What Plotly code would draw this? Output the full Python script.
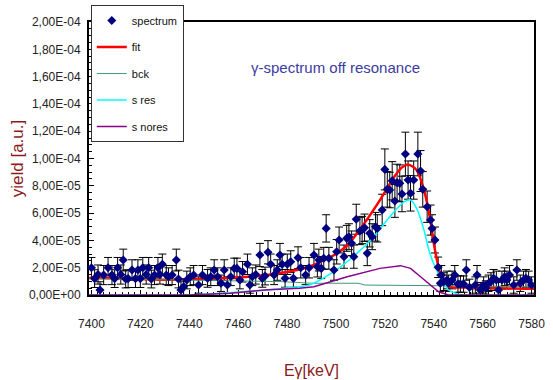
import plotly.graph_objects as go

# Measured gamma spectrum (yield in units of 1e-5)
energy = [7400.0, 7401.3, 7402.7, 7403.5, 7405.0, 7406.8, 7408.4, 7409.5, 7410.7, 7412.0,
          7413.0, 7414.0, 7415.0, 7416.6, 7418.0, 7419.0, 7420.0, 7421.0, 7422.4, 7423.4,
          7424.5, 7425.8, 7427.2, 7428.0, 7429.0, 7430.6, 7431.5, 7433.0, 7434.7, 7435.6,
          7436.6, 7437.7, 7439.0, 7440.4, 7441.8, 7443.8, 7445.4, 7447.5, 7448.8, 7450.2,
          7451.6, 7453.0, 7454.3, 7455.6, 7457.0, 7458.4, 7459.5, 7460.7, 7461.8, 7463.8,
          7464.8, 7465.8, 7467.2, 7468.9, 7469.9, 7471.0, 7472.2, 7473.3, 7474.7, 7476.0,
          7477.1, 7478.0, 7479.2, 7480.1, 7481.5, 7482.6, 7484.5, 7485.6, 7487.6, 7489.0,
          7491.0, 7492.4, 7493.0, 7494.0, 7495.0, 7496.0, 7497.1, 7499.2, 7500.3, 7501.3,
          7503.3, 7504.4, 7505.3, 7506.4, 7507.3, 7508.3, 7509.8, 7510.7, 7511.7, 7512.8,
          7513.8, 7514.8, 7516.2, 7516.9, 7518.9, 7520.0, 7521.0, 7522.0, 7523.0, 7524.1,
          7525.0, 7526.1, 7527.0, 7528.4, 7529.5, 7530.5, 7531.8, 7533.5, 7534.6, 7535.5,
          7537.3, 7538.7, 7539.3, 7540.5, 7541.8, 7542.7, 7543.1, 7544.1, 7545.4, 7546.1,
          7547.5, 7548.6, 7549.9, 7550.9, 7552.2, 7553.3, 7554.6, 7555.9, 7557.0, 7557.7,
          7559.0, 7560.4, 7561.3, 7562.4, 7563.4, 7564.5, 7565.6, 7566.5, 7567.9, 7569.0,
          7569.9, 7571.0, 7572.7, 7574.0, 7575.4, 7576.7, 7577.7, 7578.8, 7580.0]
yield_ = [2.00, 1.20, 1.50, 0.37, 1.46, 2.00, 1.46, 1.20, 2.00, 1.50,
          2.56, 1.17, 1.20, 1.83, 1.20, 1.83, 1.20, 2.00, 1.50, 2.00,
          1.17, 1.46, 2.00, 1.50, 2.25, 1.46, 1.34, 1.46, 2.56, 1.17,
          0.37, 0.61, 1.10, 1.34, 1.46, 0.73, 1.46, 1.22, 1.34, 1.83,
          1.34, 0.86, 1.83, 0.73, 1.34, 1.95, 1.95, 1.10, 1.70, 2.25,
          0.73, 1.34, 1.50, 2.93, 1.22, 1.39, 3.13, 2.25, 1.46, 1.83,
          2.93, 2.25, 1.22, 2.25, 2.44, 1.22, 2.73, 2.00, 1.46, 2.00,
          2.93, 2.07, 2.56, 1.95, 2.69, 4.88, 2.69, 1.83, 3.17, 4.03,
          2.81, 4.15, 4.27, 3.79, 2.81, 5.55, 4.69, 4.76, 4.93, 3.05,
          4.52, 4.27, 5.00, 4.88, 6.23, 9.20, 7.74, 7.69, 8.37, 6.89,
          8.23, 8.18, 7.40, 10.33, 8.42, 7.45, 8.42, 10.33, 9.08, 7.74,
          6.47, 5.49, 4.88, 4.03, 2.03, 0.86, 1.46, 0.98, 1.10, 0.86,
          1.10, 1.46, 0.80, 0.80, 0.80, 1.83, 0.56, -0.10, 0.73, 1.46,
          0.37, 0.73, 0.49, 0.86, 0.98, 1.22, 1.10, 0.37, 1.10, 1.34,
          1.10, 1.46, 0.73, 1.83, 0.86, 1.10, 1.22, 1.10, 0.73]
yield_err = [0.75, 0.65, 0.70, 0.60, 0.70, 0.75, 0.70, 0.65, 0.75, 0.70,
             0.80, 0.65, 0.65, 0.75, 0.65, 0.75, 0.65, 0.75, 0.70, 0.75,
             0.65, 0.70, 0.75, 0.70, 0.75, 0.70, 0.65, 0.70, 0.80, 0.65,
             0.60, 0.60, 0.65, 0.65, 0.70, 0.60, 0.70, 0.65, 0.65, 0.75,
             0.65, 0.60, 0.75, 0.60, 0.65, 0.75, 0.75, 0.65, 0.75, 0.75,
             0.60, 0.65, 0.70, 0.85, 0.65, 0.65, 0.85, 0.75, 0.70, 0.75,
             0.85, 0.75, 0.65, 0.75, 0.80, 0.65, 0.80, 0.75, 0.70, 0.75,
             0.85, 0.75, 0.80, 0.75, 0.80, 1.00, 0.80, 0.75, 0.90, 0.95,
             0.85, 0.95, 0.95, 0.90, 0.85, 1.10, 1.00, 1.00, 1.00, 0.90,
             1.00, 0.95, 1.05, 1.00, 1.15, 1.50, 1.30, 1.30, 1.40, 1.20,
             1.35, 1.35, 1.30, 1.60, 1.40, 1.30, 1.40, 1.60, 1.50, 1.30,
             1.15, 1.10, 1.00, 0.95, 0.75, 0.60, 0.70, 0.65, 0.65, 0.60,
             0.65, 0.70, 0.60, 0.60, 0.60, 0.75, 0.60, 0.55, 0.60, 0.70,
             0.55, 0.60, 0.55, 0.60, 0.65, 0.65, 0.65, 0.55, 0.65, 0.65,
             0.65, 0.70, 0.60, 0.75, 0.60, 0.65, 0.65, 0.65, 0.60]

# Fit components
fit_E = [7399, 7410, 7420, 7430, 7440, 7452, 7465, 7477, 7489, 7495, 7500, 7505, 7511,
         7518, 7524, 7527, 7529, 7531, 7533, 7536, 7538.6, 7540, 7542, 7543.5, 7546,
         7552, 7565, 7581]
fit_y = [1.25, 1.22, 1.18, 1.12, 1.15, 1.22, 1.35, 1.60, 2.07, 2.55, 3.00, 3.70, 5.10,
         6.95, 8.70, 9.35, 9.55, 9.45, 9.15, 7.70, 5.50, 3.80, 2.00, 1.00, 0.60,
         0.55, 0.50, 0.45]
bck_E = [7399, 7420, 7440, 7460, 7478, 7490, 7509, 7512, 7540, 7560, 7581]
bck_y = [1.20, 1.15, 1.10, 1.02, 0.98, 0.86, 0.86, 0.73, 0.70, 0.65, 0.60]
sres_E = [7399, 7440, 7452, 7471, 7489, 7499, 7507, 7515.5, 7522, 7528, 7530.5, 7533,
          7536, 7538, 7540.5, 7543.4, 7546, 7549, 7552, 7581]
sres_y = [0, 0, 0.12, 0.37, 0.73, 1.70, 2.80, 4.27, 5.74, 6.84, 6.96, 6.35,
          4.76, 3.30, 2.07, 1.10, 0.37, 0.12, 0, 0]
snores_E = [7399, 7440, 7457, 7471, 7485, 7491, 7504.6, 7518, 7526.4, 7530.5, 7534.6,
            7538, 7542, 7546, 7581]
snores_y = [0, 0, 0.12, 0.37, 0.50, 0.61, 1.34, 1.95, 2.15, 1.95, 1.34, 0.86, 0.24, 0, 0]

y_ticks = [0, 2, 4, 6, 8, 10, 12, 14, 16, 18, 20]
y_ticktext = ["0,00E+00", "2,00E-05", "4,00E-05", "6,00E-05", "8,00E-05", "1,00E-04",
              "1,20E-04", "1,40E-04", "1,60E-04", "1,80E-04", "2,00E-04"]
x_ticks = [7400, 7420, 7440, 7460, 7480, 7500, 7520, 7540, 7560, 7580]

FONT = "Liberation Sans, Arial, sans-serif"
DARK_RED = "#8b1a1a"

fig = go.Figure()

# error bars underneath everything
fig.add_trace(go.Scatter(
    x=energy, y=yield_, mode="markers", showlegend=False, hoverinfo="skip",
    marker=dict(size=1, color="rgba(0,0,0,0)"),
    error_y=dict(type="data", array=yield_err, color="black", thickness=1, width=4),
))

line_specs = [
    ("fit", fit_E, fit_y, "#ff0000", 2.5, "spline", 2),
    ("bck", bck_E, bck_y, "#3c9a78", 1, "linear", 3),
    ("s res", sres_E, sres_y, "#00ffff", 1.5, "spline", 4),
    ("s nores", snores_E, snores_y, "#8b008b", 1.5, "linear", 5),
]
for name, xs, ys, col, w, shape, rank in line_specs:
    fig.add_trace(go.Scatter(
        x=xs, y=ys, mode="lines", name=name, legendrank=rank,
        legendgroup=name,
        line=dict(color=col, width=w, shape=shape, smoothing=0.6 if shape == "spline" else None),
    ))

fig.add_trace(go.Scatter(
    x=energy, y=yield_, mode="markers", name="spectrum", legendrank=1,
    legendgroup="spectrum", cliponaxis=False,
    marker=dict(symbol="diamond", size=7, color="#000080"),
))

fig.add_annotation(
    x=0.555, y=0.835, xref="paper", yref="paper", showarrow=False,
    xanchor="center", yanchor="middle",
    text="γ-spectrum off resonance",
    font=dict(family=FONT, size=15, color="#3c3ca0"),
)

fig.update_layout(
    width=553, height=380,
    margin=dict(l=89, r=19, t=22, b=85, autoexpand=False),
    paper_bgcolor="white", plot_bgcolor="white",
    font=dict(family=FONT, size=12, color="#222222"),
    legend=dict(
        x=0.004, y=1.062, xanchor="left", yanchor="top",
        bgcolor="white", bordercolor="#333333", borderwidth=1,
        font=dict(family=FONT, size=11, color="#111111"),
        tracegroupgap=7.5, itemwidth=30,
    ),
    xaxis=dict(
        range=[7399, 7581], tickvals=x_ticks, ticks="inside", ticklen=5,
        tickcolor="black", showline=True, linecolor="black", linewidth=2,
        mirror=True, showgrid=False, zeroline=False, layer="below traces",
        minor=dict(dtick=2.5, tick0=7400, ticks="inside", ticklen=3, tickcolor="black"),
        tickfont=dict(size=12), ticklabelstandoff=17,
        title=dict(text="Eγ[keV]", font=dict(size=16, color=DARK_RED), standoff=34),
    ),
    yaxis=dict(
        range=[0, 20], tickvals=y_ticks, ticktext=y_ticktext, ticks="inside", ticklen=5,
        tickcolor="black", showline=True, linecolor="black", linewidth=2,
        mirror=True, showgrid=False, zeroline=False, layer="below traces",
        minor=dict(dtick=0.5, ticks="inside", ticklen=3, tickcolor="black"),
        tickfont=dict(size=12), ticklabelstandoff=4,
        title=dict(text="yield [a.u.]", font=dict(size=17, color=DARK_RED), standoff=1),
    ),
)

fig.write_html("out.html")
